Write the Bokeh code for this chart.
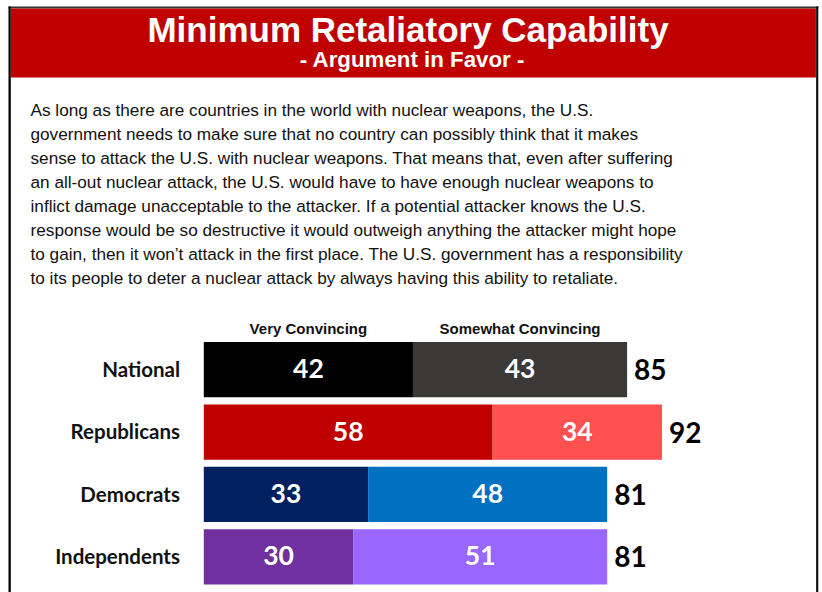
from bokeh.plotting import figure
from bokeh.models import Range1d, ColumnDataSource
from bokeh.core.properties import value
from bokeh.embed import file_html
from bokeh.resources import INLINE

# ---------------- data ----------------
title = "Minimum Retaliatory Capability"
subtitle = "- Argument in Favor -"
paragraph = [
    "As long as there are countries in the world with nuclear weapons, the U.S.",
    "government needs to make sure that no country can possibly think that it makes",
    "sense to attack the U.S. with nuclear weapons. That means that, even after suffering",
    "an all-out nuclear attack, the U.S. would have to have enough nuclear weapons to",
    "inflict damage unacceptable to the attacker.  If a potential attacker knows the U.S.",
    "response would be so destructive it would outweigh anything the attacker might hope",
    "to gain, then it won\u2019t attack in the first place. The U.S. government has a responsibility",
    "to its people to deter a nuclear attack by always having this ability to retaliate.",
]
categories = ["National", "Republicans", "Democrats", "Independents"]
series_names = ["Very Convincing", "Somewhat Convincing"]
very = [42, 58, 33, 30]
somewhat = [43, 34, 48, 51]
very_colors = ["#000000", "#c00000", "#002060", "#7030a0"]
somewhat_colors = ["#3b3838", "#ff5050", "#0070c0", "#9966ff"]

# ---------------- layout ----------------
W, H = 822, 592
PPU = 4.98          # pixels per percentage point
SP = 62.37          # pixels between category rows
X0 = -203.3 / PPU
YEND = 369.2 / SP
K = 0.38            # renderer baseline correction (fraction of font size)


def cx(px):
    return X0 + px / PPU


def cy(py):
    return YEND - py / SP


def base(py, fs):
    # pixel baseline -> data y, corrected for the renderer's baseline shift
    return cy(py - K * fs)


def dy(off, fs):
    # data offset for a baseline `off` px below a bar centre
    return -(off - K * fs) / SP


p = figure(width=W, height=H,
           x_range=Range1d(X0, X0 + W / PPU),
           y_range=Range1d(YEND - H / SP, YEND),
           output_backend="svg", toolbar_location=None,
           min_border=0, x_axis_location=None, y_axis_location=None,
           outline_line_color=None)
p.grid.visible = False
p.background_fill_color = "white"
p.border_fill_color = "white"

# frame and header band
p.quad(left=[cx(8)], right=[cx(818)], top=[cy(6)], bottom=[cy(8)],
       fill_color="#333333", line_color=None)
p.quad(left=[cx(8)], right=[cx(10.3)], top=[cy(6)], bottom=[cy(H)],
       fill_color="#000000", line_color=None)
p.quad(left=[cx(815.6)], right=[cx(817.8)], top=[cy(6)], bottom=[cy(H)],
       fill_color="#111111", line_color=None)
p.quad(left=[cx(10.3)], right=[cx(815.4)], top=[cy(8)], bottom=[cy(77)],
       fill_color="#c00000", line_color=None)

FS_T, FS_S, FS_P = 35, 22.3, 17.2
p.text(x=[cx(407.5)], y=[base(42, FS_T)], text=[title], text_align="center",
       text_baseline="alphabetic", text_font=value("Liberation Sans"),
       text_font_style="bold", text_font_size=f"{FS_T}px", text_color="white")
p.text(x=[cx(412)], y=[base(67.3, FS_S)], text=[subtitle], text_align="center",
       text_baseline="alphabetic", text_font=value("Liberation Sans"),
       text_font_style="bold", text_font_size=f"{FS_S}px", text_color="white")

p.text(x=[cx(30)] * len(paragraph),
       y=[base(116.3 + 24 * i, FS_P) for i in range(len(paragraph))],
       text=paragraph, text_align="left", text_baseline="alphabetic",
       text_font=value("Liberation Sans"), text_font_size=f"{FS_P}px",
       text_color="#111111")

# ---------------- bars ----------------
FS_V, FS_TOT, FS_C, FS_L = 26.5, 28, 20.5, 15
n = len(categories)
ypos = [-i for i in range(n)]
totals = [v + s for v, s in zip(very, somewhat)]
src = ColumnDataSource(dict(
    y=ypos,
    very=very,
    total=totals,
    very_mid=[v / 2 for v in very],
    some_mid=[v + s / 2 for v, s in zip(very, somewhat)],
    vc=very_colors,
    sc=somewhat_colors,
    very_lbl=[str(v) for v in very],
    some_lbl=[str(s) for s in somewhat],
    total_lbl=[str(t) for t in totals],
    cat=categories,
    lbl_y=[y + dy(9.1, FS_V) for y in ypos],
    tot_y=[y + dy(10.6, FS_TOT) for y in ypos],
    cat_y=[y + dy(6.9, FS_C) for y in ypos],
))

BH = 0.886
p.hbar(y="y", left=0, right="very", height=BH, fill_color="vc",
       line_color=None, source=src)
p.hbar(y="y", left="very", right="total", height=BH, fill_color="sc",
       line_color=None, source=src)

p.text(x="very_mid", y="lbl_y", text="very_lbl", text_align="center",
       text_baseline="alphabetic", text_font=value("Lato"),
       text_font_style="bold", text_font_size=f"{FS_V}px", text_color="white",
       source=src)
p.text(x="some_mid", y="lbl_y", text="some_lbl", text_align="center",
       text_baseline="alphabetic", text_font=value("Lato"),
       text_font_style="bold", text_font_size=f"{FS_V}px", text_color="white",
       source=src)
p.text(x="total", y="tot_y", text="total_lbl", x_offset=7, text_align="left",
       text_baseline="alphabetic", text_font=value("Lato"),
       text_font_style="bold", text_font_size=f"{FS_TOT}px", text_color="#000000",
       source=src)
p.text(x=cx(179.5), y="cat_y", text="cat", text_align="right",
       text_baseline="alphabetic", text_font=value("Lato"),
       text_font_style="bold", text_font_size=f"{FS_C}px", text_color="#111111",
       source=src)

# series headers centered over the National segments
p.text(x=[very[0] / 2, very[0] + somewhat[0] / 2], y=[base(333.3, FS_L)] * 2,
       text=series_names, text_align="center", text_baseline="alphabetic",
       text_font=value("Liberation Sans"), text_font_style="bold",
       text_font_size=f"{FS_L}px", text_color="#111111")

open("out.html", "w").write(file_html(p, INLINE))
